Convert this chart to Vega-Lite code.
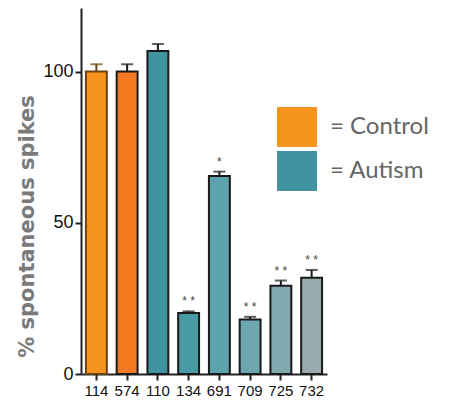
{
  "$schema": "https://vega.github.io/schema/vega-lite/v6.json",
  "width": 246,
  "height": 366,
  "autosize": {"type": "none"},
  "padding": {"left": 81, "top": 8, "right": 125, "bottom": 28},
  "background": "white",
  "config": {"view": {"stroke": null}},
  "datasets": {
    "bars": [
      {"id": "114", "value": 100, "err": 102.4, "sig": ""},
      {"id": "574", "value": 100, "err": 102.4, "sig": ""},
      {"id": "110", "value": 106.8, "err": 109.1, "sig": ""},
      {"id": "134", "value": 20.2, "err": 20.7, "sig": "* *"},
      {"id": "691", "value": 65.5, "err": 66.9, "sig": "*"},
      {"id": "709", "value": 18.0, "err": 18.9, "sig": "* *"},
      {"id": "725", "value": 29.2, "err": 30.9, "sig": "* *"},
      {"id": "732", "value": 31.8, "err": 34.4, "sig": "* *"}
    ],
    "groups": [
      {"group": "= Control"},
      {"group": "= Autism"}
    ]
  },
  "layer": [
    {
      "data": {"name": "bars"},
      "mark": {"type": "bar", "strokeWidth": 2},
      "encoding": {
        "x": {
          "field": "id", "type": "nominal", "sort": null,
          "scale": {"paddingInner": 0.32, "paddingOuter": 0.16},
          "axis": {
            "title": null, "labelAngle": 0, "labelFontSize": 15, "labelFont": "Liberation Sans",
            "labelColor": "#111", "tickSize": 6, "tickWidth": 2, "tickColor": "#222",
            "domainWidth": 2, "domainColor": "#222", "labelPadding": 3
          }
        },
        "y": {
          "field": "value", "type": "quantitative",
          "scale": {"domain": [0, 121], "nice": false},
          "axis": {
            "title": "% spontaneous spikes", "values": [0, 50, 100], "grid": false,
            "labelFontSize": 18, "labelFont": "Liberation Sans", "labelColor": "#111",
            "tickSize": 6, "tickWidth": 2, "tickColor": "#222", "domainWidth": 2, "domainColor": "#222",
            "labelPadding": 2,
            "titleFont": "DejaVu Sans", "titleFontSize": 21, "titleFontWeight": "bold",
            "titleColor": "#7a7a7a", "titleX": -54, "titleY": 218, "titleAngle": -90,
            "titleAlign": "center", "titleBaseline": "middle"
          }
        },
        "fill": {
          "field": "id", "type": "nominal", "sort": null, "legend": null,
          "scale": {
            "domain": ["114", "574", "110", "134", "691", "709", "725", "732"],
            "range": ["#F7941D", "#F47920", "#4093A0", "#4A9AA6", "#5CA4AD", "#6DA6AE", "#80A8AE", "#97ABAE"]
          }
        },
        "stroke": {
          "condition": {"test": "datum.id === '114'", "value": "#6b4413"},
          "value": "#1a1a1a"
        }
      }
    },
    {
      "data": {"name": "bars"},
      "mark": {"type": "rule", "strokeWidth": 2},
      "encoding": {
        "x": {"field": "id", "type": "nominal", "sort": null},
        "y": {"field": "value", "type": "quantitative"},
        "y2": {"field": "err"},
        "color": {
          "condition": {"test": "datum.id === '114'", "value": "#6b4413"},
          "value": "#1a1a1a"
        }
      }
    },
    {
      "data": {"name": "bars"},
      "mark": {"type": "tick", "orient": "horizontal", "size": 12, "thickness": 2},
      "encoding": {
        "x": {"field": "id", "type": "nominal", "sort": null},
        "y": {"field": "err", "type": "quantitative"},
        "color": {
          "condition": {"test": "datum.id === '114'", "value": "#6b4413"},
          "value": "#1a1a1a"
        }
      }
    },
    {
      "data": {"name": "bars"},
      "mark": {"type": "text", "fontSize": 12, "color": "#444", "baseline": "middle", "dy": -10, "font": "Liberation Sans"},
      "encoding": {
        "x": {"field": "id", "type": "nominal", "sort": null},
        "y": {"field": "err", "type": "quantitative"},
        "text": {"field": "sig"}
      }
    },
    {
      "data": {"name": "groups"},
      "mark": {"type": "square", "opacity": 0, "size": 10},
      "encoding": {
        "fill": {
          "field": "group", "type": "nominal", "sort": null,
          "scale": {"domain": ["= Control", "= Autism"], "range": ["#F7941D", "#4093A0"]},
          "legend": {
            "title": null, "orient": "none", "legendX": 196, "legendY": 99,
            "symbolType": "square", "symbolSize": 1600, "symbolOpacity": 1, "symbolStrokeWidth": 0,
            "labelFontSize": 24, "labelFont": "Lato", "labelColor": "#666", "labelOffset": 13,
            "rowPadding": 4, "padding": 0
          }
        }
      }
    }
  ],
  "resolve": {"scale": {"fill": "independent"}}
}
